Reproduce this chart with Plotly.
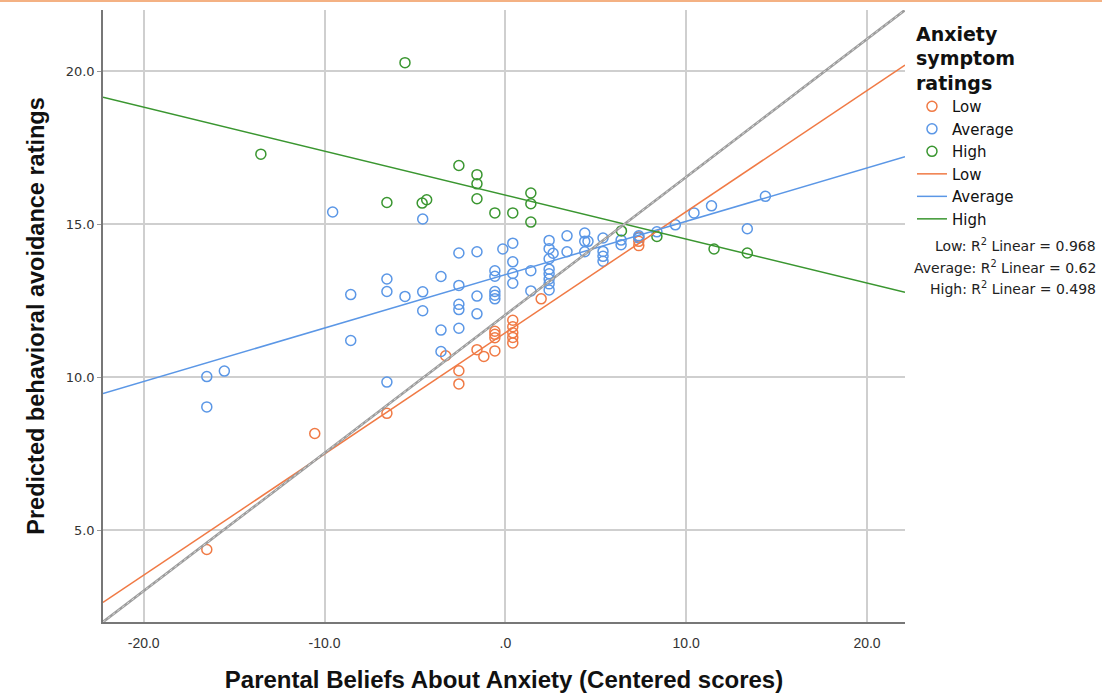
import plotly.graph_objects as go

# ---------------- data ----------------
low_x = [-16.51, -10.54, -6.55, -3.30, -2.57, -2.57, -1.57, -1.19, -0.58, -0.58, -0.58, -0.58,
         0.41, 0.41, 0.41, 0.41, 0.41, 1.98, 7.38, 7.38, 7.38]
low_y = [4.37, 8.16, 8.82, 10.70, 10.21, 9.78, 10.90, 10.68, 10.86, 11.29, 11.40, 11.50,
         11.12, 11.30, 11.45, 11.65, 11.86, 12.56, 14.30, 14.44, 14.58]

avg_x = [-16.51, -16.51, -15.54, -9.55, -8.55, -8.55, -6.55, -6.55, -6.55, -5.55,
         -4.57, -4.57, -4.57, -3.56, -3.56, -3.56, -2.57, -2.57, -2.57, -2.57, -2.57,
         -1.57, -1.57, -1.57, -0.14, -0.58, -0.58, -0.58, -0.58, -0.58,
         0.41, 0.41, 0.41, 0.41, 1.41, 1.41,
         2.42, 2.42, 2.64, 2.42, 2.42, 2.42, 2.42, 2.42, 2.42,
         3.41, 3.41, 4.39, 4.39, 4.57, 4.39, 5.40, 5.40, 5.40, 5.40,
         6.40, 6.40, 7.38, 7.38, 8.38, 9.40, 10.43, 11.40, 13.38, 14.38]
avg_y = [10.02, 9.03, 10.20, 15.40, 12.70, 11.20, 13.21, 12.80, 9.84, 12.64,
         15.17, 12.79, 12.17, 13.29, 11.54, 10.84, 14.06, 13.00, 12.38, 12.21, 11.60,
         14.10, 12.65, 12.07, 14.19, 13.48, 13.30, 12.80, 12.68, 12.56,
         14.38, 13.77, 13.39, 13.07, 13.48, 12.82,
         14.47, 14.20, 14.05, 13.87, 13.53, 13.38, 13.21, 13.05, 12.85,
         14.62, 14.10, 14.71, 14.44, 14.44, 14.10, 14.55, 14.11, 13.95, 13.79,
         14.48, 14.33, 14.62, 14.55, 14.75, 14.98, 15.37, 15.60, 14.85, 15.91]

high_x = [-13.52, -6.55, -5.55, -4.60, -4.35, -2.57, -1.57, -1.57, -1.57, -0.58, 0.41,
          1.41, 1.41, 1.41, 6.42, 8.38, 11.54, 13.38]
high_y = [17.29, 15.71, 20.28, 15.69, 15.80, 16.92, 16.62, 16.32, 15.83, 15.37, 15.37,
          16.02, 15.67, 15.07, 14.78, 14.60, 14.19, 14.06]

groups = ["Low", "Average", "High"]
fit_intercepts = [11.45, 13.35, 15.95]
fit_slopes = [0.396, 0.1744, -0.1437]
r2_values = ["0.968", "0.62", "0.498"]

x_range = [-22.25, 22.1]
y_range = [2.0, 22.0]
x_ticks = [-20, -10, 0, 10, 20]
x_ticktext = ["-20.0", "-10.0", ".0", "10.0", "20.0"]
y_ticks = [5, 10, 15, 20]
y_ticktext = ["5.0", "10.0", "15.0", "20.0"]

colors = ["#F07A45", "#5B97E6", "#3A9630"]

# ---------------- figure ----------------
W, H = 1102, 693
ML, MR, MT, MB = 103, 197, 10, 71
plot_h = H - MT - MB

fig = go.Figure()

point_sets = [(low_x, low_y), (avg_x, avg_y), (high_x, high_y)]
for name, (xs, ys), c in zip(groups, point_sets, colors):
    fig.add_trace(go.Scatter(
        x=xs, y=ys, mode="markers", name=name,
        marker=dict(symbol="circle-open", size=10, color=c, line=dict(width=1.5, color=c)),
    ))

for name, b0, b1, c in zip(groups, fit_intercepts, fit_slopes, colors):
    fx = list(x_range)
    fy = [b0 + b1 * v for v in fx]
    fig.add_trace(go.Scatter(x=fx, y=fy, mode="lines", name=name,
                             line=dict(color=c, width=1.5)))

# grey reference diagonal (corner to corner)
fig.add_trace(go.Scatter(x=x_range, y=y_range, mode="lines", showlegend=False,
                         line=dict(color="#9c9c9c", width=2.6), hoverinfo="skip"))
fig.add_trace(go.Scatter(x=x_range, y=y_range, mode="lines", showlegend=False,
                         line=dict(color="#e6e6e6", width=0.8, dash="dot"), hoverinfo="skip"))

# R^2 notes, one line each
r2_rows_px = [245, 267, 288]
for g, v, py in zip(groups, r2_values, r2_rows_px):
    fig.add_annotation(xref="paper", yref="paper", x=(1098 - ML) / (W - ML - MR),
                       y=(H - MB - py) / plot_h,
                       xanchor="right", yanchor="middle", align="right", showarrow=False,
                       text=f"{g}: R<sup>2</sup> Linear = {v}",
                       font=dict(family="DejaVu Sans", size=14, color="#222"))

# thin peach border at the very top of the page
fig.add_shape(type="line", xref="paper", yref="paper", ysizemode="pixel", yanchor=1,
              x0=-0.2, x1=1.3, y0=9, y1=9, line=dict(color="#F4B183", width=2))

fig.update_layout(
    width=W, height=H,
    margin=dict(l=ML, r=MR, t=MT, b=MB, autoexpand=False),
    paper_bgcolor="white", plot_bgcolor="white",
    font=dict(family="DejaVu Sans", color="#333"),
    legend=dict(
        x=1.0087, y=1.0 - 6 / plot_h, xanchor="left", yanchor="top",
        title=dict(text="<b>Anxiety<br>symptom<br>ratings</b>", side="top center",
                   font=dict(family="DejaVu Sans", size=19, color="#111")),
        font=dict(family="DejaVu Sans", size=15, color="#111"),
        tracegroupgap=0, bgcolor="rgba(0,0,0,0)",
    ),
    xaxis=dict(
        range=x_range, tickvals=x_ticks, ticktext=x_ticktext, automargin=False,
        showgrid=True, gridcolor="#cfcfcf", gridwidth=1.6, zeroline=False,
        showline=True, linecolor="#777", linewidth=1.5,
        ticks="outside", ticklen=7, tickcolor="rgba(0,0,0,0)",
        tickfont=dict(family="Liberation Sans Narrow, Liberation Sans", size=14, color="#333"),
        title=dict(text="<b>Parental Beliefs About Anxiety (Centered scores)</b>",
                   font=dict(family="Liberation Sans Narrow, Liberation Sans", size=24, color="#111"),
                   standoff=22),
    ),
    yaxis=dict(
        range=y_range, tickvals=y_ticks, ticktext=y_ticktext, automargin=False,
        showgrid=True, gridcolor="#cfcfcf", gridwidth=1.6, zeroline=False,
        showline=True, linecolor="#777", linewidth=1.5,
        ticks="outside", ticklen=4, tickcolor="#999",
        tickfont=dict(family="DejaVu Sans", size=13, color="#333"),
        title=dict(text="<b>Predicted behavioral avoidance ratings</b>",
                   font=dict(family="Liberation Sans Narrow, Liberation Sans", size=23.5, color="#111"),
                   standoff=14),
    ),
)

fig.write_html("out.html", config={"displayModeBar": False},
               post_script="document.body.style.margin='0';document.body.style.overflow='hidden';")
